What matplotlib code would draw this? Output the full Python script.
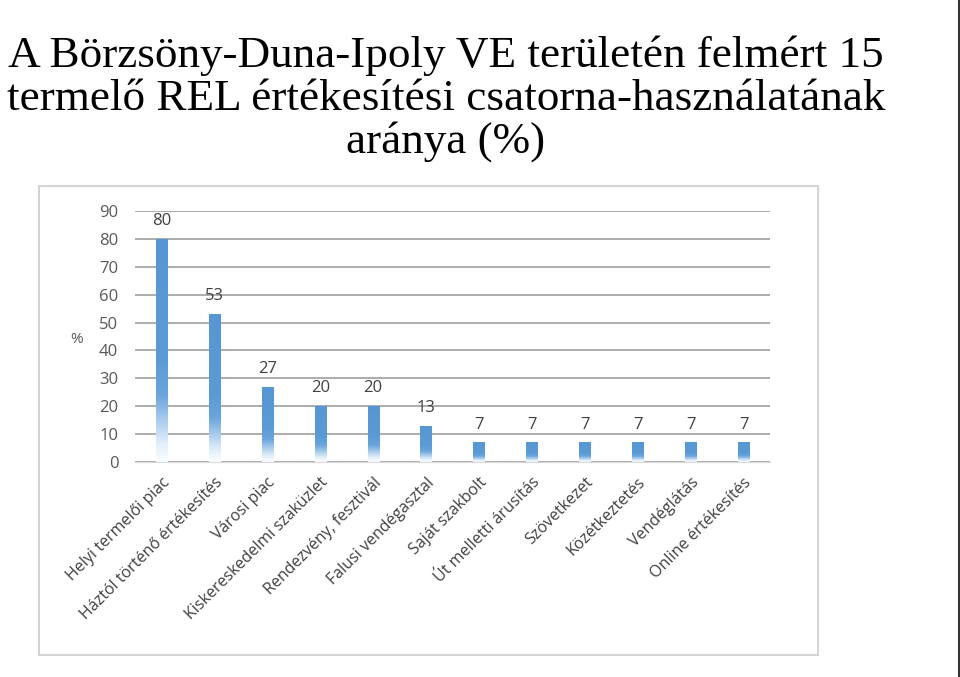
import numpy as np
import matplotlib
matplotlib.use("Agg")
import matplotlib.pyplot as plt
from matplotlib.patches import Rectangle
from matplotlib.colors import LinearSegmentedColormap

categories = ["Helyi termelői piac", "Háztól történő értékesítés", "Városi piac",
              "Kiskereskedelmi szaküzlet", "Rendezvény, fesztivál", "Falusi vendégasztal",
              "Saját szakbolt", "Út melletti árusítás", "Szövetkezet", "Közétkeztetés",
              "Vendéglátás", "Online értékesítés"]
values = [80, 53, 27, 20, 20, 13, 7, 7, 7, 7, 7, 7]
yticks = [0, 10, 20, 30, 40, 50, 60, 70, 80, 90]
title = "A Börzsöny-Duna-Ipoly VE területén felmért 15\ntermelő REL értékesítési csatorna-használatának\naránya (%)"

W, H = 960, 677
fig = plt.figure(figsize=(W / 100, H / 100), dpi=100)
fig.patch.set_facecolor("white")

# title
fig.text(446 / W, 1 - 36 / H, title, ha="center", va="top", fontsize=32.5,
         family="Liberation Serif", linespacing=1.08, color="black")

# chart frame
fig.patches.append(Rectangle((39 / W, 1 - 655 / H), (818 - 39) / W, (655 - 186) / H,
                             transform=fig.transFigure, fill=False,
                             edgecolor="#d4d4d4", linewidth=1.5))
# right dark border line
fig.add_artist(plt.Line2D([958.5 / W, 958.5 / W], [0, 1], transform=fig.transFigure,
                          color="#333333", linewidth=2.2))

ax = fig.add_axes([135 / W, 1 - 462 / H, (770 - 135) / W, (462 - 211) / H])
x = np.arange(len(categories))
ax.set_xlim(-0.5, len(categories) - 0.5)
ax.set_ylim(0, 90)
ax.set_yticks(yticks)
ax.set_yticklabels([str(t) for t in yticks], fontsize=12, color="#595959", family="Open Sans")
ax.tick_params(axis="y", length=0, pad=12)
ax.set_xticks(x)
ax.set_xticklabels(categories, rotation=45, ha="right", rotation_mode="anchor",
                   fontsize=11.5, color="#404040", family="Open Sans")
ax.tick_params(axis="x", length=0, pad=9)
for s in ["top", "right", "left"]:
    ax.spines[s].set_visible(False)
ax.spines["bottom"].set_color("#d9d9d9")
ax.yaxis.grid(True, color="#a6a6a6", linewidth=1.3)
ax.set_axisbelow(True)

cmap = LinearSegmentedColormap.from_list(
    "g", [(0, "#fbfdff"), (0.08, "#e3effb"), (0.3, "#6aa5dc"), (0.45, "#5b9bd5"), (1, "#5696d2")])
bw = 0.21
bars = ax.bar(x, values, width=bw, color="none", edgecolor="none")
grad = np.linspace(0, 1, 256).reshape(-1, 1)
for b, v in zip(bars, values):
    im = ax.imshow(grad, cmap=cmap, origin="lower", aspect="auto",
                   extent=[b.get_x(), b.get_x() + b.get_width(), 0, v], zorder=2)
    im.set_clip_path(b)
    ax.text(b.get_x() + b.get_width() / 2, v + 3.5, str(v), ha="center", va="bottom",
            fontsize=12, color="#404040", family="Open Sans")
ax.set_xlim(-0.5, len(categories) - 0.5)
ax.set_ylim(0, 90)

fig.text(77 / W, 1 - 339 / H, "%", ha="center", va="center", fontsize=11,
         color="#595959", family="Open Sans")

fig.savefig("out.png", dpi=100, facecolor="white")
